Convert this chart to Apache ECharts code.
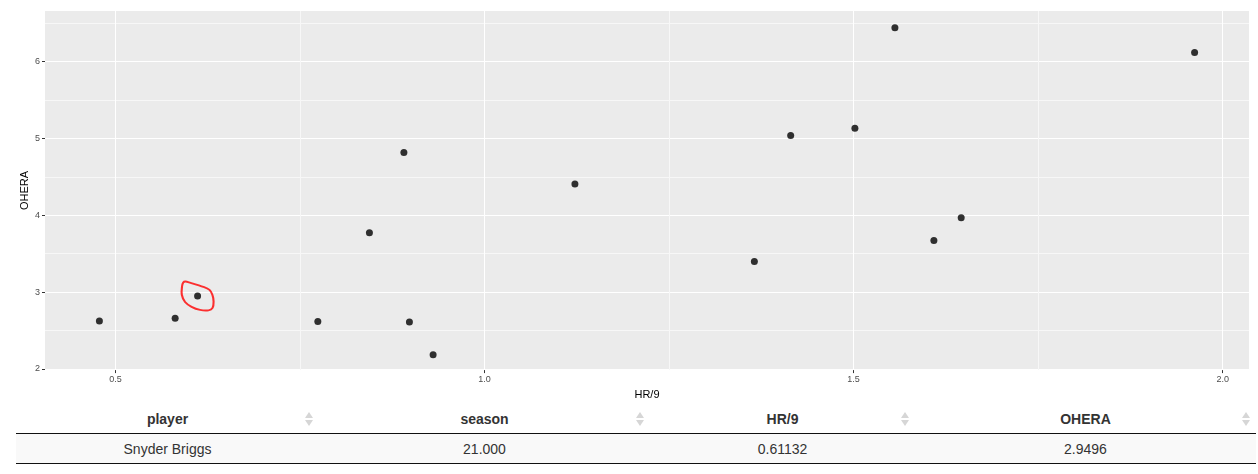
<!DOCTYPE html>
<html><head><meta charset="utf-8">
<script src="https://cdn.jsdelivr.net/npm/echarts@6/dist/echarts.min.js"></script>
<style>
html,body{margin:0;padding:0;background:#fff;width:1258px;height:474px;overflow:hidden;font-family:"Liberation Sans",Arial,sans-serif;}
#chart{width:1258px;height:405px;}
table{border-collapse:collapse;margin-left:16px;width:1240px;table-layout:fixed;color:#333;font-size:14px;}
th{font-weight:bold;height:28px;padding:0;border-bottom:1px solid #111;position:relative;text-align:center;}
td{height:29px;padding:0;background:#f9f9f9;border-bottom:1px solid #111;text-align:center;}
.sort{position:absolute;right:6px;top:50%;margin-top:-7px;width:8px;height:14px;}
.sort::before{content:'';position:absolute;left:0;top:0;border-left:4px solid transparent;border-right:4px solid transparent;border-bottom:6px solid #d6d6d6;}
.sort::after{content:'';position:absolute;left:0;top:8px;border-left:4px solid transparent;border-right:4px solid transparent;border-top:6px solid #d6d6d6;}
</style>
</head><body>
<div id="chart"></div>
<table id="tbl"><colgroup><col style="width:303px"><col style="width:331px"><col style="width:265px"><col style="width:341px"></colgroup><thead><tr id="hdr"></tr></thead><tbody><tr id="row"></tr></tbody></table>
<script>
// ---- data ----
const hr9   = [0.4783, 0.5809, 0.61132, 0.7742, 0.8441, 0.8908, 0.8983, 0.9304, 1.1225, 1.3656, 1.4148, 1.5018, 1.556, 1.6088, 1.6458, 1.962];
const ohera = [2.625, 2.659, 2.9496, 2.617, 3.772, 4.819, 2.612, 2.185, 4.409, 3.400, 5.039, 5.133, 6.443, 3.673, 3.970, 6.120];
const selected = [0.61132, 2.9496];
const xTicks = [0.5, 1.0, 1.5, 2.0];
const yTicks = [2, 3, 4, 5, 6];
const xTitle = 'HR/9';
const yTitle = 'OHERA';
const tableHeader = ['player', 'season', 'HR/9', 'OHERA'];
const tableRow = ['Snyder Briggs', '21.000', '0.61132', '2.9496'];

// ---- table ----
document.getElementById('hdr').innerHTML = tableHeader.map(h => '<th>' + h + '<span class="sort"></span></th>').join('');
document.getElementById('row').innerHTML = tableRow.map(v => '<td>' + v + '</td>').join('');

// ---- hand-drawn loop shape (annotation) ----
function smoothClosed(p) {
  const n = p.length;
  let d = 'M' + p[0][0] + ',' + p[0][1];
  for (let i = 0; i < n; i++) {
    const p0 = p[(i - 1 + n) % n], p1 = p[i], p2 = p[(i + 1) % n], p3 = p[(i + 2) % n];
    const c1 = [p1[0] + (p2[0] - p0[0]) / 6, p1[1] + (p2[1] - p0[1]) / 6];
    const c2 = [p2[0] - (p3[0] - p1[0]) / 6, p2[1] - (p3[1] - p1[1]) / 6];
    d += 'C' + c1[0].toFixed(2) + ',' + c1[1].toFixed(2) + ' ' + c2[0].toFixed(2) + ',' + c2[1].toFixed(2) + ' ' + p2[0] + ',' + p2[1];
  }
  return d + 'Z';
}
const loopShape = [[4,0.3],[9,1.6],[21.6,5.6],[27.6,8.6],[30.4,13.4],[31.6,20],[30.6,26.4],[26.6,28.8],[18.3,28.4],[10,25.4],[3.6,20.6],[0.4,13.4],[0.6,5.2],[1.8,1.2]];

const chart = echarts.init(document.getElementById('chart'), null, {renderer: 'canvas'});
const axisLabelStyle = {color: '#4d4d4d', fontSize: 9, fontFamily: 'Liberation Sans, Arial, sans-serif'};
chart.setOption({
  animation: false,
  backgroundColor: '#fff',
  grid: {left: 45, right: 9, top: 11, bottom: 33, show: true, backgroundColor: '#ebebeb', borderWidth: 0, containLabel: false},
  xAxis: {
    type: 'value', min: 0.4046, max: 2.0357, splitNumber: 3,
    name: xTitle, nameLocation: 'middle', nameGap: 17,
    nameTextStyle: {color: '#000', fontSize: 11, fontFamily: 'Liberation Sans, Arial, sans-serif'},
    axisLine: {show: false},
    axisTick: {show: true, length: 3, lineStyle: {color: '#333', width: 1}, customValues: xTicks},
    axisLabel: Object.assign({margin: 5, customValues: xTicks, formatter: v => v.toFixed(1)}, axisLabelStyle),
    splitLine: {show: true, lineStyle: {color: '#fff', width: 1}},
    minorTick: {show: false, splitNumber: 2},
    minorSplitLine: {show: true, lineStyle: {color: '#f7f7f7', width: 1}}
  },
  yAxis: {
    type: 'value', min: 1.985, max: 6.66, splitNumber: 4,
    name: yTitle, nameLocation: 'middle', nameGap: 15, nameMoveOverlap: false,
    nameTextStyle: {color: '#000', fontSize: 11, fontFamily: 'Liberation Sans, Arial, sans-serif'},
    axisLine: {show: false},
    axisTick: {show: true, length: 3, lineStyle: {color: '#333', width: 1}, customValues: yTicks},
    axisLabel: Object.assign({margin: 5, customValues: yTicks, formatter: v => String(Math.round(v))}, axisLabelStyle),
    splitLine: {show: true, lineStyle: {color: '#fff', width: 1}},
    minorTick: {show: false, splitNumber: 2},
    minorSplitLine: {show: true, lineStyle: {color: '#f7f7f7', width: 1}}
  },
  series: [
    {
      type: 'scatter', symbol: 'circle', symbolSize: 7,
      itemStyle: {color: '#000'},
      data: hr9.map((x, i) => [x, ohera[i]]),
      z: 3
    },
    {
      type: 'scatter', symbol: 'path://' + smoothClosed(loopShape), symbolSize: [32, 29],
      itemStyle: {color: 'rgba(0,0,0,0)', borderColor: '#ff0000', borderWidth: 2},
      data: [selected], silent: true, z: 4
    }
  ]
});
</script>
</body></html>
